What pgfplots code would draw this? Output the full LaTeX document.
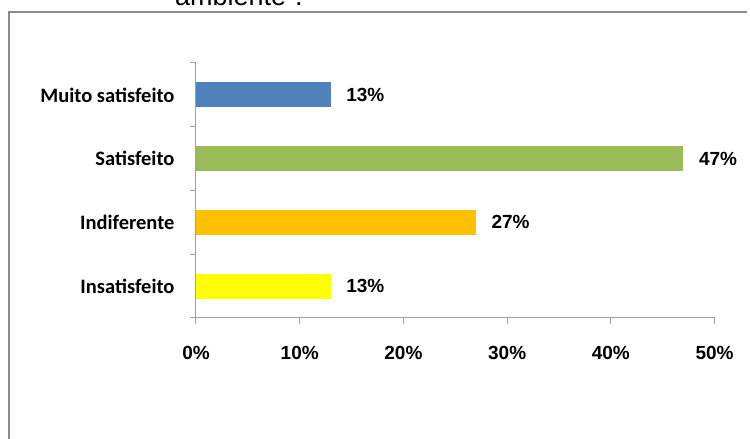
\documentclass[border=0pt]{standalone}
\usepackage{pgfplots}
\pgfplotsset{compat=1.18}
\usetikzlibrary{calc}
\usepackage{fontspec}
\setmainfont{Liberation Sans}
\newfontfamily\carlito{Carlito}
\definecolor{cblue}{HTML}{4F81BD}
\definecolor{cgreen}{HTML}{9BBB59}
\definecolor{corange}{HTML}{FFC000}
\definecolor{cyellow}{HTML}{FFFF00}
\definecolor{axgray}{HTML}{A0A0A0}
\definecolor{framegray}{HTML}{8C8C8C}
\begin{document}
\begin{tikzpicture}[x=1pt,y=1pt]
\begin{axis}[
  scale only axis, width=518.6pt, height=255pt,
  /pgf/number format/assume math mode=true,
  xbar, bar width=25pt, bar shift=0pt,
  xmin=0, xmax=50, ymin=-0.5, ymax=3.5,
  axis lines*=left,
  axis line style={axgray, line width=1pt},
  tick align=outside,
  xtick={0,10,20,30,40,50},
  xticklabels={0\%,10\%,20\%,30\%,40\%,50\%},
  major tick length=6pt,
  minor tick length=6pt,
  major x tick style={draw=axgray, line width=1pt},
  x tick label style={font=\fontsize{19}{22}\selectfont\bfseries, yshift=-19pt},
  ytick={0,1,2,3},
  yticklabels={Insatisfeito,Indiferente,Satisfeito,Muito satisfeito},
  major y tick style={draw=none},
  minor ytick={-0.5,0.5,1.5,2.5,3.5},
  minor y tick style={draw=axgray, line width=1pt},
  y tick label style={font=\carlito\fontsize{20.5}{24}\selectfont\bfseries, xshift=-12pt},
  nodes near coords={\pgfmathprintnumber{\pgfplotspointmeta}\%},
  nodes near coords align={horizontal},
  every node near coord/.append style={font=\fontsize{19}{22}\selectfont\bfseries, anchor=west, xshift=12pt, black},
]
\addplot[fill=cyellow, draw=none] coordinates {(13,0)};
\addplot[fill=corange, draw=none] coordinates {(27,1)};
\addplot[fill=cgreen, draw=none] coordinates {(47,2)};
\addplot[fill=cblue, draw=none] coordinates {(13,3)};
\coordinate (O) at (axis cs:0,-0.5);
\end{axis}
\pgfresetboundingbox
\useasboundingbox ($(O)+(-196,-121)$) rectangle ($(O)+(554,318)$);
\draw[framegray, line width=2pt] ($(O)+(-187,-125)$) -- ($(O)+(-187,306)$) -- ($(O)+(551,306)$);
\node[anchor=base west, inner sep=0pt, font=\fontsize{27}{30}\selectfont] at ($(O)+(-21,312)$) {ambiente”.};
\end{tikzpicture}
\end{document}
